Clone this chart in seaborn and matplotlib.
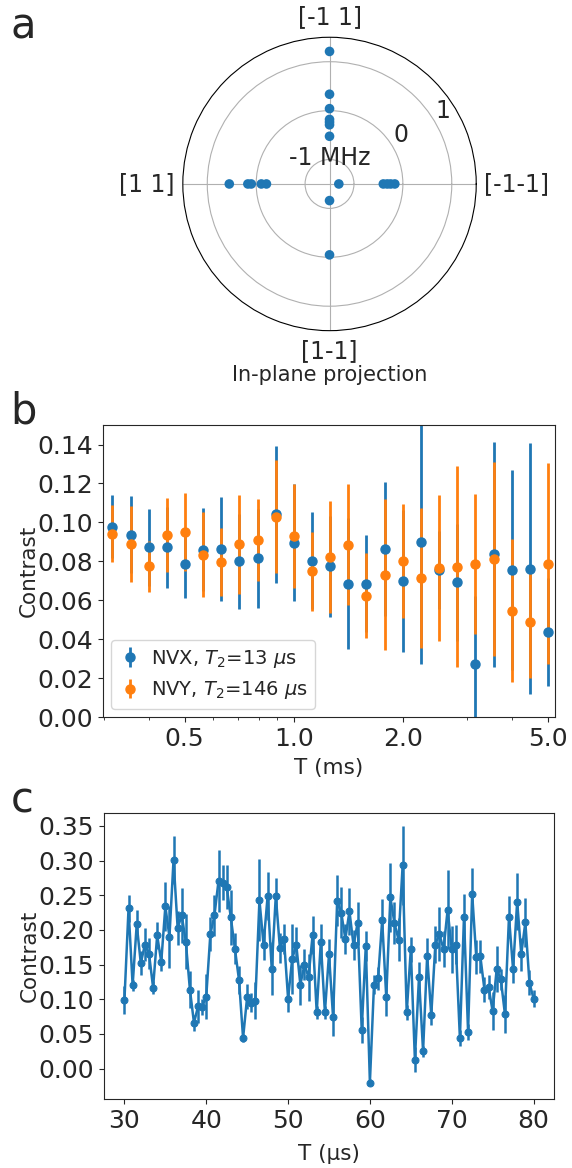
import numpy as np
import pandas as pd
import matplotlib
matplotlib.use("Agg")
import matplotlib.pyplot as plt
import matplotlib.ticker as mticker
import seaborn as sns

sns.set_style("ticks")
plt.rcParams['font.family'] = ['DejaVu Sans']
plt.rcParams['mathtext.fontset'] = 'dejavusans'

# ---------------- Panel a data (in-plane projection, MHz) ----------------
polar_dir_deg = [90, 90, 90, 90, 90, 90, 90,
                 270, 270,
                 0, 0, 0, 0, 0,
                 180, 180, 180, 180, 180]
polar_r = [1.21, 0.335, 0.04, -0.18, -0.235, -0.29, -0.525,
           -1.16, -0.05,
           -1.31, -0.40, -0.32, -0.25, -0.165,
           0.55, 0.17, 0.10, -0.105, -0.21]
theta_grid_deg = [0, 90, 180, 270]
theta_labels = ['[-1-1]', '[-1 1]', '[1 1]', '[1-1]']
r_tick_values = [-1, 0, 1]
r_tick_labels = ['', '0', '1']
r_unit_label = '-1 MHz'

# ---------------- Panel b data ----------------
T_ms = [0.316, 0.355, 0.398, 0.447, 0.501, 0.562, 0.631, 0.708, 0.794, 0.891,
        1.0, 1.122, 1.259, 1.413, 1.585, 1.778, 1.995, 2.239, 2.512, 2.818,
        3.162, 3.548, 3.981, 4.467, 5.012]
nvx = [0.0978, 0.0937, 0.0871, 0.0871, 0.0784, 0.0860, 0.0865, 0.0799, 0.0816, 0.1041,
       0.0896, 0.0804, 0.0775, 0.0685, 0.0685, 0.0864, 0.0697, 0.0901, 0.0757, 0.0692,
       0.0273, 0.0835, 0.0756, 0.0762, 0.0437]
nvx_err = [0.0163, 0.0199, 0.0197, 0.0210, 0.0173, 0.0214, 0.0267, 0.0243, 0.0254, 0.0351,
           0.0300, 0.0250, 0.0260, 0.0336, 0.0250, 0.0343, 0.0365, 0.0630, 0.0200, 0.0300,
           0.0350, 0.0580, 0.0512, 0.0646, 0.0276]
nvy = [0.0942, 0.0889, 0.0774, 0.0934, 0.0951, 0.0833, 0.0795, 0.0887, 0.0908, 0.1028,
       0.0929, 0.0749, 0.0824, 0.0886, 0.0624, 0.0732, 0.0802, 0.0715, 0.0766, 0.0773,
       0.0787, 0.0812, 0.0547, 0.0488, 0.0788]
nvy_err = [0.0146, 0.0194, 0.0132, 0.0189, 0.0200, 0.0218, 0.0175, 0.0254, 0.0210, 0.0290,
           0.0267, 0.0204, 0.0288, 0.0309, 0.0220, 0.0387, 0.0293, 0.0360, 0.0374, 0.0514,
           0.0360, 0.0497, 0.0368, 0.0290, 0.0518]
b_xticks = [0.5, 1.0, 2.0, 5.0]
b_labels = ['NVX, $T_2$=13 $\\mu$s', 'NVY, $T_2$=146 $\\mu$s']

# ---------------- Panel c data ----------------
T_us = [30.0, 30.5, 31.0, 31.5, 32.0, 32.5, 33.0, 33.5, 34.0, 34.5,
        35.0, 35.5, 36.0, 36.5, 37.0, 37.5, 38.0, 38.5, 39.0, 39.5,
        40.0, 40.5, 41.0, 41.5, 42.0, 42.5, 43.0, 43.5, 44.0, 44.5,
        45.0, 45.5, 46.0, 46.5, 47.0, 47.5, 48.0, 48.5, 49.0, 49.5,
        50.0, 50.5, 51.0, 51.5, 52.0, 52.5, 53.0, 53.5, 54.0, 54.5,
        55.0, 55.5, 56.0, 56.5, 57.0, 57.5, 58.0, 58.5, 59.0, 59.5,
        60.0, 60.5, 61.0, 61.5, 62.0, 62.5, 63.0, 63.5, 64.0, 64.5,
        65.0, 65.5, 66.0, 66.5, 67.0, 67.5, 68.0, 68.5, 69.0, 69.5,
        70.0, 70.5, 71.0, 71.5, 72.0, 72.5, 73.0, 73.5, 74.0, 74.5,
        75.0, 75.5, 76.0, 76.5, 77.0, 77.5, 78.0, 78.5, 79.0, 79.5,
        80.0]
contrast_c = [0.099, 0.231, 0.120, 0.208, 0.152, 0.179, 0.166, 0.117, 0.192, 0.154,
              0.234, 0.190, 0.301, 0.203, 0.221, 0.183, 0.114, 0.066, 0.090, 0.089,
              0.104, 0.194, 0.221, 0.271, 0.268, 0.262, 0.218, 0.173, 0.128, 0.044,
              0.104, 0.095, 0.098, 0.243, 0.179, 0.249, 0.144, 0.249, 0.174, 0.187,
              0.101, 0.158, 0.179, 0.121, 0.150, 0.132, 0.193, 0.081, 0.183, 0.081,
              0.165, 0.074, 0.242, 0.225, 0.187, 0.227, 0.178, 0.210, 0.056, 0.177,
              -0.020, 0.121, 0.130, 0.214, 0.103, 0.247, 0.210, 0.186, 0.293, 0.081,
              0.172, 0.013, 0.132, 0.025, 0.163, 0.077, 0.179, 0.194, 0.172, 0.229,
              0.172, 0.179, 0.044, 0.219, 0.053, 0.252, 0.161, 0.162, 0.114, 0.118,
              0.083, 0.144, 0.129, 0.079, 0.219, 0.143, 0.241, 0.165, 0.211, 0.124,
              0.101]
contrast_c_err = [0.020, 0.019, 0.008, 0.021, 0.017, 0.024, 0.022, 0.009, 0.020, 0.013,
                  0.035, 0.045, 0.035, 0.024, 0.040, 0.040, 0.027, 0.012, 0.024, 0.012,
                  0.032, 0.025, 0.030, 0.045, 0.025, 0.032, 0.040, 0.022, 0.020, 0.006,
                  0.018, 0.014, 0.027, 0.059, 0.022, 0.034, 0.038, 0.026, 0.022, 0.021,
                  0.020, 0.050, 0.025, 0.029, 0.022, 0.034, 0.027, 0.009, 0.026, 0.010,
                  0.022, 0.027, 0.037, 0.037, 0.021, 0.034, 0.022, 0.031, 0.019, 0.022,
                  0.005, 0.014, 0.016, 0.030, 0.027, 0.050, 0.030, 0.031, 0.057, 0.011,
                  0.018, 0.018, 0.022, 0.008, 0.026, 0.014, 0.027, 0.039, 0.026, 0.057,
                  0.034, 0.028, 0.012, 0.033, 0.012, 0.037, 0.025, 0.024, 0.018, 0.017,
                  0.028, 0.033, 0.015, 0.027, 0.030, 0.020, 0.041, 0.024, 0.035, 0.018,
                  0.012]

blue = '#1f77b4'
orange = '#ff7f0e'

fig = plt.figure(figsize=(5.72, 11.68), dpi=100)

# ---------------- Panel a ----------------
ax_a = fig.add_axes([0.3196, 0.7169, 0.513, 0.2512], projection='polar')
df_a = pd.DataFrame({'theta': np.deg2rad(polar_dir_deg), 'r': polar_r})
sns.scatterplot(data=df_a, x='theta', y='r', ax=ax_a, color=blue, s=48,
                edgecolor='none', zorder=3)
ax_a.set_rlim(-1.5, 1.5)
ax_a.set_rgrids(r_tick_values, labels=r_tick_labels, angle=30, fontsize=17)
ax_a.set_thetagrids(theta_grid_deg, labels=['', '', '', ''])
ax_a.grid(True, color='#b0b0b0', lw=0.8)
ax_a.set_xlabel('')
ax_a.set_ylabel('')
ax_a.spines['polar'].set_color('black')
ax_a.text(np.pi / 2, -0.97, r_unit_label, ha='center', va='center', fontsize=17)
# direction labels just outside the outer circle
g = 0.028
lab_pos = {0: (1 + g, 0.5, 'left', 'center'),
           90: (0.5, 1 + g, 'center', 'bottom'),
           180: (-g, 0.5, 'right', 'center'),
           270: (0.5, -g, 'center', 'top')}
for ang, lab in zip(theta_grid_deg, theta_labels):
    x, y, ha, va = lab_pos[ang]
    ax_a.text(x, y, lab, transform=ax_a.transAxes, ha=ha, va=va, fontsize=17)
ax_a.text(0.5, -0.118, 'In-plane projection', transform=ax_a.transAxes,
          ha='center', va='top', fontsize=15)

# ---------------- Panel b ----------------
ax_b = fig.add_axes([0.1801, 0.3861, 0.7902, 0.25])
ax_b.errorbar(T_ms, nvx, yerr=nvx_err, fmt='o', color=blue, ms=6.5, elinewidth=2,
              label=b_labels[0])
ax_b.errorbar(T_ms, nvy, yerr=nvy_err, fmt='o', color=orange, ms=6.5, elinewidth=2,
              label=b_labels[1])
ax_b.set_xscale('log')
ax_b.set_xlim(0.298, 5.24)
ax_b.set_ylim(0, 0.15)
ax_b.set_xticks(b_xticks)
ax_b.xaxis.set_major_formatter(mticker.FormatStrFormatter('%.1f'))
ax_b.xaxis.set_minor_formatter(mticker.NullFormatter())
ax_b.set_yticks(np.arange(0, 0.1401, 0.02))
ax_b.yaxis.set_major_formatter(mticker.FormatStrFormatter('%.2f'))
ax_b.tick_params(labelsize=18)
ax_b.set_xlabel('T (ms)', fontsize=15.5, labelpad=5)
ax_b.set_ylabel('Contrast', fontsize=15.5, labelpad=-1)
ax_b.legend(loc='lower left', fontsize=14, handlelength=1.2, handletextpad=0.45,
            borderaxespad=0.4)

# ---------------- Panel c ----------------
ax_c = fig.add_axes([0.1818, 0.0591, 0.7867, 0.2449])
df_c = pd.DataFrame({'T': T_us, 'C': contrast_c})
ax_c.errorbar(T_us, contrast_c, yerr=contrast_c_err, fmt='none', ecolor=blue,
              elinewidth=1.8)
sns.lineplot(data=df_c, x='T', y='C', ax=ax_c, color=blue, lw=1.8, marker='o',
             markersize=5, markeredgecolor=blue)
ax_c.set_xticks([30, 40, 50, 60, 70, 80])
ax_c.set_yticks(np.arange(0, 0.3501, 0.05))
ax_c.yaxis.set_major_formatter(mticker.FormatStrFormatter('%.2f'))
ax_c.tick_params(labelsize=18)
ax_c.set_xlabel('T (\u03bcs)', fontsize=15.5, labelpad=8)
ax_c.set_ylabel('Contrast', fontsize=15.5, labelpad=-1)

# panel letters
fig.text(0.018, 0.995, 'a', fontsize=30, va='top')
fig.text(0.018, 0.666, 'b', fontsize=30, va='top')
fig.text(0.018, 0.333, 'c', fontsize=30, va='top')

fig.savefig('out.png', dpi=100)
